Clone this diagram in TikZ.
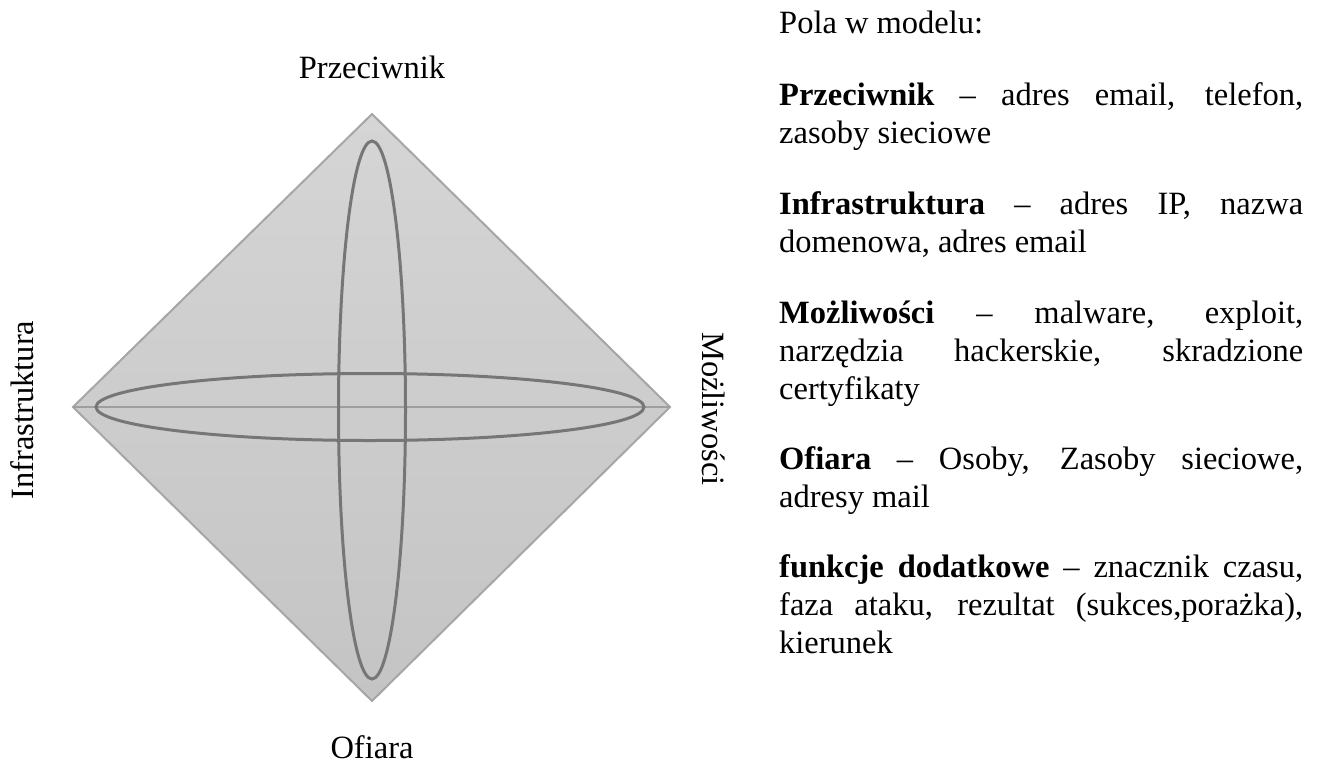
\documentclass[tikz,border=0pt]{standalone}
\usepackage{fontspec}
\setmainfont{Liberation Serif}
\definecolor{fillTop}{RGB}{213,213,213}
\definecolor{fillBottom}{RGB}{196,196,196}
\definecolor{rimGray}{RGB}{166,166,166}
\definecolor{axisGray}{RGB}{158,158,158}
\definecolor{loopGray}{RGB}{118,118,118}
\begin{document}
\begin{tikzpicture}[x=1pt,y=-1pt,
  rim/.style={draw=rimGray,line width=2pt,line join=miter},
  axisline/.style={draw=axisGray,line width=2.5pt},
  loopline/.style={draw=loopGray,line width=3pt},
  txt/.style={inner sep=0pt,font=\fontsize{32.5}{38}\selectfont},
  para/.style={txt,anchor=base west}]
\useasboundingbox (0,0) rectangle (1323,772);

% corners of the diamond
\coordinate (top) at (372,114);
\coordinate (left) at (73,407);
\coordinate (right) at (670,407);
\coordinate (bottom) at (372,701);

% diamond body with a soft vertical gradient
\shade[top color=fillTop,bottom color=fillBottom]
  (top) -- (right) -- (bottom) -- (left) -- cycle;
\draw[rim] (top) -- (right) -- (bottom) -- (left) -- cycle;
\draw[axisline] (left) -- (right);

% the two crossing ellipses
\draw[loopline] (372,410) ellipse [x radius=33.5,y radius=269];
\draw[loopline] (370,407) ellipse [x radius=274,y radius=33.5];

% corner labels
\node[txt,anchor=base] (adv) at (372,78) {Przeciwnik};
\node[txt,anchor=base] (vic) at (372,758) {Ofiara};
\node[txt,anchor=base,rotate=90] (inf) at (34,410) {Infrastruktura};
\node[txt,anchor=base,rotate=-90] (cap) at (702,409) {Możliwości};

% description on the right, justified lines
\def\colw{524pt}
\node[para] (t1)  at (779,33)  {Pola w modelu:};
\node[para] (t2)  at (779,105) {\makebox[\colw][s]{\textbf{Przeciwnik} – adres email, telefon,}};
\node[para] (t3)  at (779,143) {zasoby sieciowe};
\node[para] (t4)  at (779,214) {\makebox[\colw][s]{\textbf{Infrastruktura} – adres IP, nazwa}};
\node[para] (t5)  at (779,252) {domenowa, adres email};
\node[para] (t6)  at (779,323) {\makebox[\colw][s]{\textbf{Możliwości} – malware, exploit,}};
\node[para] (t7)  at (779,361) {\makebox[\colw][s]{narzędzia hackerskie, skradzione}};
\node[para] (t8)  at (779,399) {certyfikaty};
\node[para] (t9)  at (779,469) {\makebox[\colw][s]{\textbf{Ofiara} – Osoby, Zasoby sieciowe,}};
\node[para] (t10) at (779,507) {adresy mail};
\node[para] (t11) at (779,577) {\makebox[\colw][s]{\textbf{funkcje dodatkowe} – znacznik czasu,}};
\node[para] (t12) at (779,615) {\makebox[\colw][s]{faza ataku, rezultat (sukces,porażka),}};
\node[para] (t13) at (779,653) {kierunek};
\end{tikzpicture}
\end{document}
